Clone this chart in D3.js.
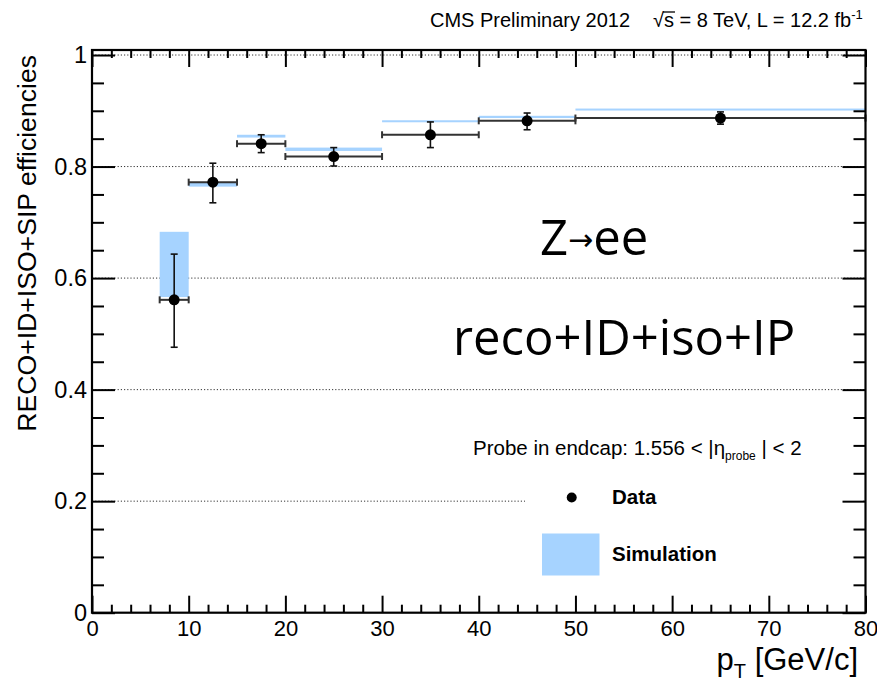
<!DOCTYPE html>
<html>
<head>
<meta charset="utf-8">
<script src="https://cdn.jsdelivr.net/npm/d3@7"></script>
<style>
  html, body { margin: 0; padding: 0; background: #fff; }
  svg { display: block; }
</style>
</head>
<body>
<svg id="chart" width="877" height="683"></svg>
<script>
// ---- data ----
const binLow  = [7, 10, 15, 20, 30, 40, 50];
const binHigh = [10, 15, 20, 30, 40, 50, 80];
const dataX   = [8.5, 12.5, 17.5, 25, 35, 45, 65];
const dataEff = [0.561, 0.772, 0.841, 0.818, 0.857, 0.882, 0.887];
const dataErrHigh = [0.643, 0.806, 0.857, 0.834, 0.880, 0.896, 0.898];
const dataErrLow  = [0.476, 0.735, 0.825, 0.801, 0.834, 0.866, 0.876];
const simLow  = [0.566, 0.764, 0.852, 0.828, 0.880, 0.887, 0.901];
const simHigh = [0.683, 0.771, 0.857, 0.834, 0.883, 0.891, 0.904];

const xMajorTicks = [0, 10, 20, 30, 40, 50, 60, 70, 80];
const xTickLabels = ["0", "10", "20", "30", "40", "50", "60", "70", "80"];
const yMajorTicks = [0, 0.2, 0.4, 0.6, 0.8, 1.0];
const yTickLabels = ["0", "0.2", "0.4", "0.6", "0.8", "1"];
const gridValues  = [0.2, 0.4, 0.6, 0.8, 1.0];

const svg = d3.select("#chart");
const L = 92, R = 865.5, T = 50, B = 612.7;
const x = d3.scaleLinear().domain([0, 80]).range([L, R]);
const y = d3.scaleLinear().domain([0, 1.009]).range([B, T]);

const xMinor = d3.range(0, 80.001, 2).filter(v => v % 10 !== 0);
const yMinor = d3.range(0, 1.0001, 0.05).map(v => +v.toFixed(2)).filter(v => Math.abs(v / 0.2 - Math.round(v / 0.2)) > 1e-6);

const SANS = "'Liberation Sans', Arial, Helvetica, sans-serif";
const HUM = "'Open Sans', 'Noto Sans', sans-serif";

// ---- grid ----
svg.append("g").selectAll("line").data(gridValues).join("line")
  .attr("x1", L).attr("x2", R)
  .attr("y1", d => y(d)).attr("y2", d => y(d))
  .attr("stroke", "#333").attr("stroke-width", 1)
  .attr("stroke-dasharray", "1.2,2");

// ---- legend background (hides part of grid) ----
svg.append("rect").attr("x", 525).attr("y", 425).attr("width", 337).attr("height", 165)
  .attr("fill", "#fff");

// ---- simulation bands ----
svg.append("g").selectAll("rect").data(binLow.map((d, i) => i)).join("rect")
  .attr("x", i => x(binLow[i]))
  .attr("width", i => x(binHigh[i]) - x(binLow[i]))
  .attr("y", i => y(simHigh[i]))
  .attr("height", i => Math.max(2, y(simLow[i]) - y(simHigh[i])))
  .attr("fill", "#a6d3ff");

// ---- data points with errors ----
const pts = svg.append("g");
const idx = dataX.map((d, i) => i);
pts.selectAll("line.h").data(idx).join("line").attr("class", "h")
  .attr("x1", i => x(binLow[i])).attr("x2", i => x(binHigh[i]))
  .attr("y1", i => y(dataEff[i])).attr("y2", i => y(dataEff[i]))
  .attr("stroke", "#333").attr("stroke-width", 2);
pts.selectAll("line.hc1").data(idx).join("line").attr("class", "hc1")
  .attr("x1", i => x(binLow[i])).attr("x2", i => x(binLow[i]))
  .attr("y1", i => y(dataEff[i]) - 3.5).attr("y2", i => y(dataEff[i]) + 3.5)
  .attr("stroke", "#333").attr("stroke-width", 2);
pts.selectAll("line.hc2").data(idx).join("line").attr("class", "hc2")
  .attr("x1", i => x(binHigh[i])).attr("x2", i => x(binHigh[i]))
  .attr("y1", i => y(dataEff[i]) - 3.5).attr("y2", i => y(dataEff[i]) + 3.5)
  .attr("stroke", "#333").attr("stroke-width", 2);
pts.selectAll("line.v").data(idx).join("line").attr("class", "v")
  .attr("x1", i => x(dataX[i])).attr("x2", i => x(dataX[i]))
  .attr("y1", i => y(dataErrHigh[i])).attr("y2", i => y(dataErrLow[i]))
  .attr("stroke", "#111").attr("stroke-width", 1.6);
pts.selectAll("line.vc1").data(idx).join("line").attr("class", "vc1")
  .attr("x1", i => x(dataX[i]) - 3.5).attr("x2", i => x(dataX[i]) + 3.5)
  .attr("y1", i => y(dataErrHigh[i])).attr("y2", i => y(dataErrHigh[i]))
  .attr("stroke", "#111").attr("stroke-width", 1.6);
pts.selectAll("line.vc2").data(idx).join("line").attr("class", "vc2")
  .attr("x1", i => x(dataX[i]) - 3.5).attr("x2", i => x(dataX[i]) + 3.5)
  .attr("y1", i => y(dataErrLow[i])).attr("y2", i => y(dataErrLow[i]))
  .attr("stroke", "#111").attr("stroke-width", 1.6);
pts.selectAll("circle").data(idx).join("circle")
  .attr("cx", i => x(dataX[i])).attr("cy", i => y(dataEff[i]))
  .attr("r", 5.5).attr("fill", "#000");

// ---- axes (ticks inside on all four sides) ----
function styleAxis(size) {
  return g => {
    g.select(".domain").remove();
    g.selectAll(".tick line").attr("stroke", "#000").attr("stroke-width", 2);
    g.selectAll("text").attr("font-family", SANS).attr("font-size", size).attr("fill", "#000");
  };
}
svg.append("g").attr("transform", `translate(0,${B})`)
  .call(d3.axisBottom(x).tickValues(xMajorTicks).tickSize(-17).tickPadding(8)
    .tickFormat((d, i) => xTickLabels[i]))
  .call(styleAxis(22));
svg.append("g").attr("transform", `translate(0,${B})`)
  .call(d3.axisBottom(x).tickValues(xMinor).tickSize(-8).tickFormat(""))
  .call(styleAxis(22));
svg.append("g").attr("transform", `translate(0,${T})`)
  .call(d3.axisTop(x).tickValues(xMajorTicks).tickSize(-17).tickFormat(""))
  .call(styleAxis(22));
svg.append("g").attr("transform", `translate(0,${T})`)
  .call(d3.axisTop(x).tickValues(xMinor).tickSize(-8).tickFormat(""))
  .call(styleAxis(22));
svg.append("g").attr("transform", `translate(${L},0)`)
  .call(d3.axisLeft(y).tickValues(yMajorTicks).tickSize(-23).tickPadding(5)
    .tickFormat((d, i) => yTickLabels[i]))
  .call(styleAxis(23.5));
svg.append("g").attr("transform", `translate(${L},0)`)
  .call(d3.axisLeft(y).tickValues(yMinor).tickSize(-12).tickFormat(""))
  .call(styleAxis(22));
svg.append("g").attr("transform", `translate(${R},0)`)
  .call(d3.axisRight(y).tickValues(yMajorTicks).tickSize(-23).tickFormat(""))
  .call(styleAxis(22));
svg.append("g").attr("transform", `translate(${R},0)`)
  .call(d3.axisRight(y).tickValues(yMinor).tickSize(-12).tickFormat(""))
  .call(styleAxis(22));

// frame
svg.append("rect").attr("x", L).attr("y", T).attr("width", R - L).attr("height", B - T)
  .attr("fill", "none").attr("stroke", "#000").attr("stroke-width", 2.2);

// ---- axis titles ----
svg.append("text")
  .attr("transform", `translate(36,${T + 5}) rotate(-90)`)
  .attr("text-anchor", "end")
  .attr("font-family", SANS).attr("font-size", 26.6)
  .text("RECO+ID+ISO+SIP efficiencies");

const xt = svg.append("text").attr("x", 858).attr("y", 670)
  .attr("text-anchor", "end").attr("font-family", SANS).attr("font-size", 31);
xt.append("tspan").text("p");
xt.append("tspan").attr("font-size", 20).attr("dy", 8).text("T");
xt.append("tspan").attr("dy", -8).text(" [GeV/c]");

// ---- header ----
svg.append("text").attr("x", 430).attr("y", 27)
  .attr("font-family", SANS).attr("font-size", 20).text("CMS Preliminary 2012");
const hdr = svg.append("text").attr("x", 653).attr("y", 27)
  .attr("font-family", SANS).attr("font-size", 20);
hdr.append("tspan").text("\u221As = 8 TeV, L = 12.2 fb");
hdr.append("tspan").attr("font-size", 13).attr("dy", -8).text("-1");
{
  const node = hdr.node();
  const s0 = node.getSubStringLength(0, 1);
  const s1 = node.getSubStringLength(0, 2);
  svg.append("line").attr("x1", 653 + s0 - 1).attr("x2", 653 + s1 + 1)
    .attr("y1", 12).attr("y2", 12).attr("stroke", "#000").attr("stroke-width", 1.3);
}

// ---- annotations ----
const zt = svg.append("text").attr("x", 540).attr("y", 255)
  .attr("font-family", HUM).attr("font-size", 49);
zt.append("tspan").text("Z");
zt.append("tspan").attr("font-family", "'DejaVu Sans', sans-serif").attr("font-size", 30)
  .attr("dy", -5).text("\u2192");
zt.append("tspan").attr("dy", 5).text("ee");
svg.append("text").attr("x", 453).attr("y", 355)
  .attr("font-family", HUM).attr("font-size", 49)
  .text("reco+ID+iso+IP");

// ---- legend ----
const lh = svg.append("text").attr("x", 473).attr("y", 455)
  .attr("font-family", SANS).attr("font-size", 20.5);
lh.append("tspan").text("Probe in endcap: 1.556 < |\u03B7");
lh.append("tspan").attr("font-size", 12).attr("dy", 5).text("probe");
lh.append("tspan").attr("dy", -5).text(" | < 2");

svg.append("circle").attr("cx", 571.7).attr("cy", 497.5).attr("r", 5).attr("fill", "#000");
svg.append("text").attr("x", 612).attr("y", 504)
  .attr("font-family", SANS).attr("font-size", 20.5).attr("font-weight", "bold").text("Data");
svg.append("rect").attr("x", 542).attr("y", 533.5).attr("width", 57.5).attr("height", 42)
  .attr("fill", "#a6d3ff");
svg.append("text").attr("x", 612).attr("y", 561)
  .attr("font-family", SANS).attr("font-size", 20.5).attr("font-weight", "bold").text("Simulation");
</script>
</body>
</html>
